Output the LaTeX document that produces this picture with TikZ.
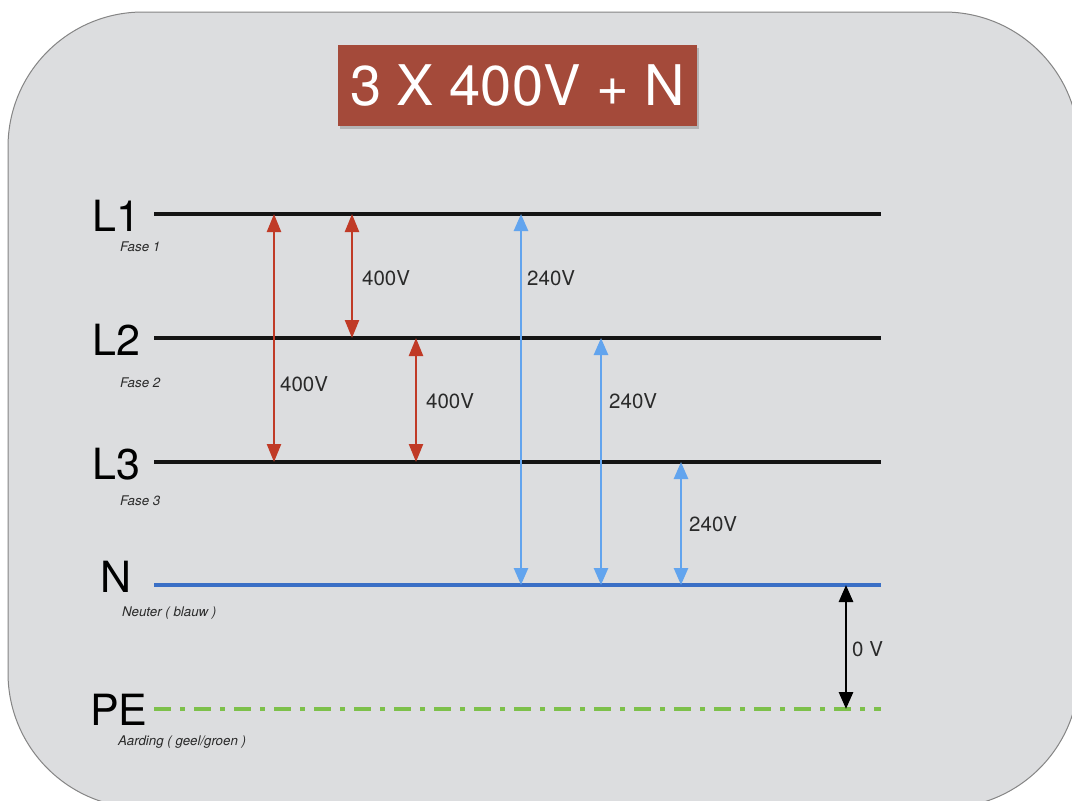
\documentclass[tikz,border=0pt]{standalone}
\usepackage{fontspec}
\setmainfont{TeX Gyre Heros}
\usetikzlibrary{arrows.meta}
\definecolor{panelfill}{HTML}{DCDDDF}
\definecolor{panelline}{HTML}{858585}
\definecolor{titlered}{HTML}{A44A3A}
\definecolor{arrowred}{HTML}{C03A26}
\definecolor{arrowblue}{HTML}{62A4EE}
\definecolor{nblue}{HTML}{3A6FC6}
\definecolor{pegreen}{HTML}{7DC04A}
\definecolor{txt}{HTML}{2A2A2A}
\begin{document}
\begin{tikzpicture}[x=1pt,y=-1pt,
  phase/.style={draw=black!92, line width=3.2pt},
  neutral/.style={draw=nblue, line width=3.2pt},
  earth/.style={draw=pegreen, line width=3.8pt, dash pattern=on 17pt off 9pt on 5pt off 9pt},
  redarr/.style={draw=arrowred, line width=2.3pt, {Triangle[length=18pt,width=14pt]}-{Triangle[length=18pt,width=14pt]}},
  bluearr/.style={draw=arrowblue, line width=2.6pt, {Triangle[length=17pt,width=14pt]}-{Triangle[length=17pt,width=14pt]}},
  blackarr/.style={draw=black, line width=2.8pt, {Triangle[length=17pt,width=14pt]}-{Triangle[length=17pt,width=14pt]}},
  biglabel/.style={anchor=base west, inner sep=0pt, text=black, font=\fontsize{43}{50}\selectfont},
  sublabel/.style={anchor=base west, inner sep=0pt, text=txt, font=\fontsize{13.3}{15}\selectfont\itshape},
  vlabel/.style={anchor=base west, inner sep=0pt, text=txt, font=\fontsize{20.5}{24}\selectfont},
  titlebox/.style={fill=titlered, text=white, minimum width=359pt, minimum height=81pt, inner sep=0pt, font=\fontsize{56}{64}\selectfont}
]
\useasboundingbox (0,0) rectangle (1072,801);
\clip (0,0) rectangle (1072,801);
\fill[white] (0,0) rectangle (1072,801);
\draw[fill=panelfill, draw=panelline, line width=1pt, rounded corners=135pt] (8,12) rectangle (1079,808);

% title
\fill[black, opacity=0.18] (339.5,47.5) rectangle (699,128.5);
\node[titlebox] (title) at (517.5,85.5) {3 X 400V + N};

% line end points
\coordinate (L1w) at (154,214); \coordinate (L1e) at (881,214);
\coordinate (L2w) at (154,338); \coordinate (L2e) at (881,338);
\coordinate (L3w) at (154,462); \coordinate (L3e) at (881,462);
\coordinate (Nw)  at (154,585); \coordinate (Ne)  at (881,585);
\coordinate (PEw) at (154,709); \coordinate (PEe) at (881,709);

\draw[phase] (L1w) -- (L1e);
\draw[phase] (L2w) -- (L2e);
\draw[phase] (L3w) -- (L3e);
\draw[neutral] (Nw) -- (Ne);
\draw[earth] (PEw) -- (PEe);

% labels
\node[biglabel] (lL1) at (92,231) {L1};
\node[sublabel] (sL1) at (120,251) {Fase 1};
\node[biglabel] (lL2) at (92,355) {L2};
\node[sublabel] (sL2) at (120,387) {Fase 2};
\node[biglabel] (lL3) at (92,479) {L3};
\node[sublabel] (sL3) at (120,505) {Fase 3};
\node[biglabel] (lN) at (100,592) {N};
\node[sublabel] (sN) at (122,616) {Neuter ( blauw )};
\node[biglabel] (lPE) at (90,725) {PE};
\node[sublabel] (sPE) at (118,745) {Aarding ( geel/groen )};

% arrow end points
\coordinate (a1t) at (274,214); \coordinate (a1b) at (274,462);
\coordinate (a2t) at (352,214); \coordinate (a2b) at (352,338);
\coordinate (a3t) at (416,338); \coordinate (a3b) at (416,462);
\coordinate (b1t) at (521,214); \coordinate (b1b) at (521,585);
\coordinate (b2t) at (601,338); \coordinate (b2b) at (601,585);
\coordinate (b3t) at (681,462); \coordinate (b3b) at (681,585);
\coordinate (c1t) at (846,585); \coordinate (c1b) at (846,709);

\draw[redarr] (a1t) -- (a1b);
\draw[redarr] (a2t) -- (a2b);
\draw[redarr] (a3t) -- (a3b);
\draw[bluearr] (b1t) -- (b1b);
\draw[bluearr] (b2t) -- (b2b);
\draw[bluearr] (b3t) -- (b3b);
\draw[blackarr] (c1t) -- (c1b);

\node[vlabel] (v1) at (280,391) {400V};
\node[vlabel] (v2) at (362,285) {400V};
\node[vlabel] (v3) at (426,408) {400V};
\node[vlabel] (v4) at (527,285) {240V};
\node[vlabel] (v5) at (609,408) {240V};
\node[vlabel] (v6) at (689,531) {240V};
\node[vlabel] (v7) at (852,656) {0 V};
\end{tikzpicture}
\end{document}
